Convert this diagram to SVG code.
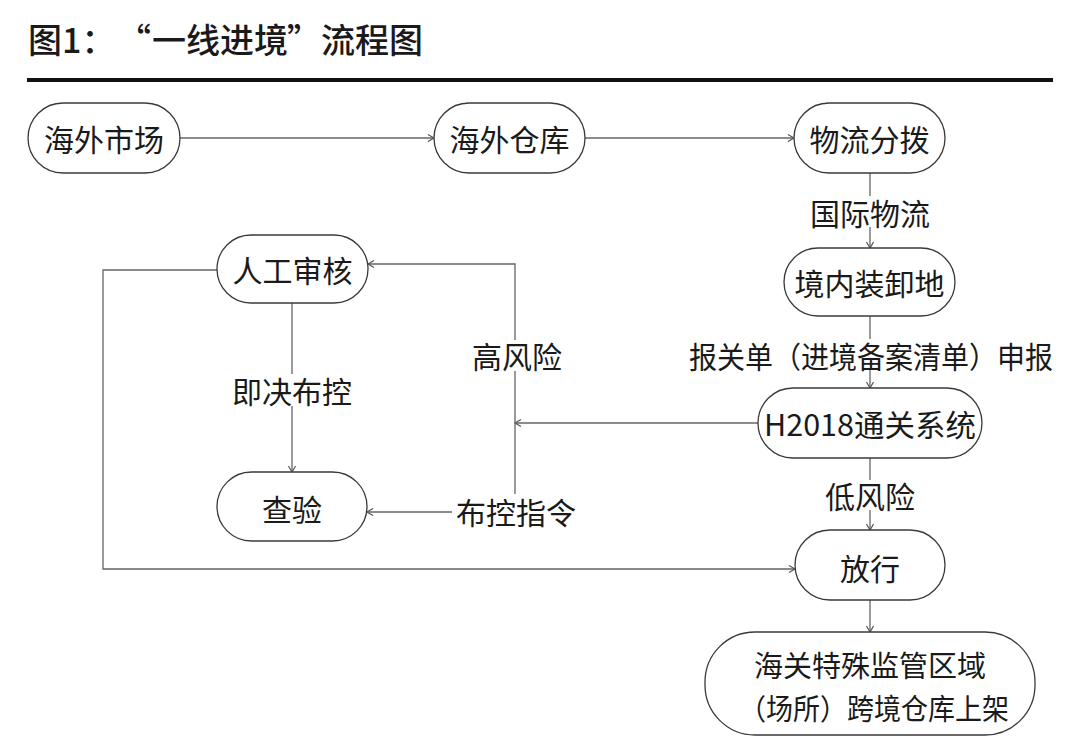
<svg xmlns="http://www.w3.org/2000/svg" width="1080" height="755" viewBox="0 0 1080 755">
  <defs>
    <marker id="arr" markerUnits="userSpaceOnUse" markerWidth="10" markerHeight="10" refX="8" refY="5" orient="auto">
      <path d="M2,1.5 L8,5 L2,8.5" fill="none" stroke="#555" stroke-width="1.2"/>
    </marker>
    <style>
      text { font-family: "Noto Sans CJK SC", "Noto Sans", sans-serif; fill: #1a1a1a; }
      .title { font-size: 34px; font-weight: 500; }
      .node rect { fill: #fff; stroke: #3a3a3a; stroke-width: 1.3; }
      .node text { font-size: 30px; text-anchor: middle; dominant-baseline: central; }
      .node text.two { font-size: 29px; }
      .conn path { fill: none; stroke: #666; stroke-width: 1.3; }
      .lbl rect { fill: #fff; stroke: none; }
      .lbl text { font-size: 30px; text-anchor: middle; dominant-baseline: central; }
    </style>
  </defs>
  <rect width="1080" height="755" fill="#fff"/>
  <text class="title" y="37.5" dominant-baseline="central"><tspan x="28">图1：</tspan><tspan x="117">“</tspan><tspan x="152">一线进境</tspan><tspan x="287">”</tspan><tspan x="321">流程图</tspan></text>
  <rect x="27" y="78" width="1026" height="4" fill="#111"/>

  <g id="connectors" class="conn">
    <path d="M180,138 H434" marker-end="url(#arr)"/>
    <path d="M585,138 H794" marker-end="url(#arr)"/>
    <path d="M870,173 V248" marker-end="url(#arr)"/>
    <path d="M870,316 V388" marker-end="url(#arr)"/>
    <path d="M758,423 H515" marker-end="url(#arr)"/>
    <path d="M515,423 V264 H368" marker-end="url(#arr)"/>
    <path d="M515,423 V512 H367" marker-end="url(#arr)"/>
    <path d="M292,303 V472" marker-end="url(#arr)"/>
    <path d="M217,270 H103 V569 H795" marker-end="url(#arr)"/>
    <path d="M870,458 V530" marker-end="url(#arr)"/>
    <path d="M870,600 V632" marker-end="url(#arr)"/>
  </g>

  <g id="labels" class="lbl">
    <g id="lbl-guoji"><rect x="808" y="196" width="124" height="31"/><text x="870" y="212">国际物流</text></g>
    <g id="lbl-baoguan"><rect x="686" y="339" width="370" height="31"/><text x="871" y="355" textLength="364" lengthAdjust="spacingAndGlyphs">报关单（进境备案清单）申报</text></g>
    <g id="lbl-gaofengxian"><rect x="470" y="340" width="94" height="31"/><text x="517" y="355">高风险</text></g>
    <g id="lbl-jijue"><rect x="230" y="374" width="124" height="32"/><text x="292" y="390">即决布控</text></g>
    <g id="lbl-bukong"><rect x="452" y="494" width="128" height="34"/><text x="516" y="511">布控指令</text></g>
    <g id="lbl-difengxian"><rect x="822" y="480" width="96" height="30"/><text x="870" y="495">低风险</text></g>
  </g>

  <g id="n-haiwaishichang" class="node"><rect x="28" y="103" width="152" height="70" rx="35"/><text x="104" y="138">海外市场</text></g>
  <g id="n-haiwaicangku" class="node"><rect x="434" y="103" width="151" height="70" rx="35"/><text x="509.5" y="138">海外仓库</text></g>
  <g id="n-wuliufenbo" class="node"><rect x="794" y="103" width="151" height="70" rx="35"/><text x="869.5" y="138">物流分拨</text></g>
  <g id="n-jingnei" class="node"><rect x="784" y="248" width="171" height="68" rx="34"/><text x="869.5" y="282">境内装卸地</text></g>
  <g id="n-h2018" class="node"><rect x="758" y="388" width="224" height="70" rx="35"/><text x="870" y="423" textLength="212" lengthAdjust="spacingAndGlyphs">H2018通关系统</text></g>
  <g id="n-rengong" class="node"><rect x="217" y="235" width="151" height="68" rx="34"/><text x="292.5" y="269">人工审核</text></g>
  <g id="n-chayan" class="node"><rect x="217" y="472" width="150" height="69" rx="34.5"/><text x="292" y="508">查验</text></g>
  <g id="n-fangxing" class="node"><rect x="795" y="530" width="150" height="70" rx="35"/><text x="870" y="567">放行</text></g>
  <g id="n-shangjia" class="node"><rect x="705" y="632" width="330" height="103" rx="50"/>
    <text class="two" x="870" y="664">海关特殊监管区域</text>
    <text class="two" x="874" y="707" textLength="270" lengthAdjust="spacingAndGlyphs">（场所）跨境仓库上架</text>
  </g>
</svg>
